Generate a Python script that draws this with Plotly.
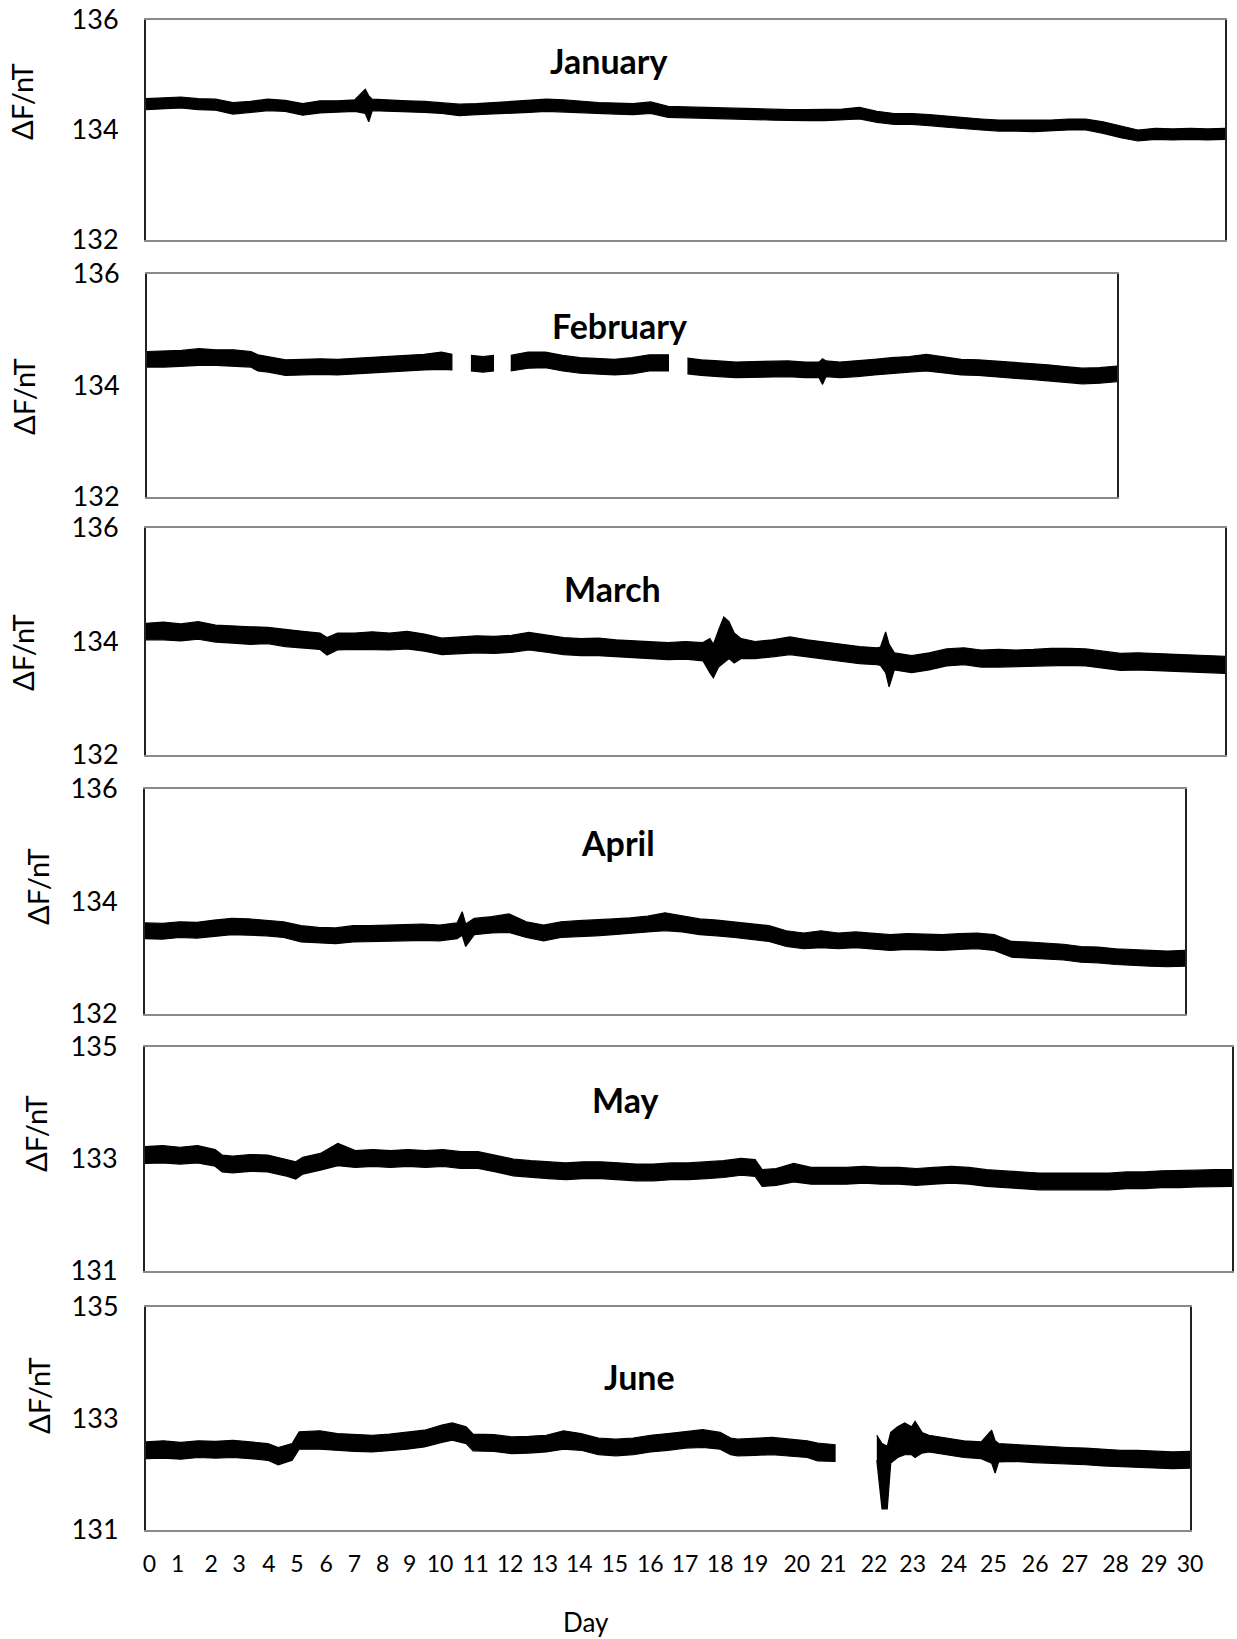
import plotly.graph_objects as go

W, H = 1237, 1639

MONTHS = ["January", "February", "March", "April", "May", "June"]
Y_LABEL = "ΔF/nT"
X_LABEL = "Day"

# ---------------- data: envelope (upper / lower) of each day-series, nT -------------
JAN_DAY = [0, 0.5, 1, 1.5, 2, 2.5, 3, 3.5, 4, 4.5, 5, 5.5, 6, 6.3, 6.4, 6.5, 7, 7.5, 8, 8.5, 9, 9.5,
           10, 10.5, 11, 11.5, 12, 12.5, 13, 13.5, 14, 14.5, 15, 15.5, 16, 16.5, 17, 17.5, 18, 18.5,
           19, 19.5, 20, 20.5, 21, 21.5, 22, 22.5, 23, 23.5, 24, 24.5, 25, 25.5, 26, 26.5, 27, 27.5,
           28, 28.5, 29, 29.5, 30, 30.5, 31]
JAN_HI = [134.57, 134.58, 134.6, 134.57, 134.56, 134.5, 134.52, 134.56, 134.54, 134.48, 134.53, 134.53,
          134.55, 134.74, 134.62, 134.56, 134.54, 134.53, 134.52, 134.5, 134.47, 134.48, 134.5, 134.51,
          134.53, 134.56, 134.55, 134.52, 134.5, 134.49, 134.48, 134.51, 134.43, 134.42, 134.41, 134.41,
          134.4, 134.39, 134.38, 134.37, 134.37, 134.37, 134.38, 134.41, 134.34, 134.3, 134.3, 134.28,
          134.25, 134.22, 134.2, 134.18, 134.18, 134.17, 134.18, 134.2, 134.2, 134.15, 134.07, 134.0,
          134.03, 134.02, 134.03, 134.02, 134.03]
JAN_LO = [134.37, 134.38, 134.4, 134.37, 134.36, 134.29, 134.32, 134.35, 134.34, 134.27, 134.31, 134.33,
          134.34, 134.3, 134.15, 134.35, 134.34, 134.33, 134.32, 134.3, 134.26, 134.28, 134.3, 134.31,
          134.32, 134.34, 134.33, 134.32, 134.3, 134.29, 134.28, 134.3, 134.23, 134.22, 134.21, 134.21,
          134.2, 134.19, 134.18, 134.17, 134.17, 134.17, 134.18, 134.2, 134.14, 134.1, 134.1, 134.08,
          134.05, 134.02, 134.0, 133.98, 133.98, 133.97, 133.98, 134.0, 134.0, 133.94, 133.86, 133.8,
          133.83, 133.82, 133.83, 133.82, 133.83]

FEB_DAY = [0, 0.5, 1, 1.5, 2, 2.5, 3, 3.2, 3.5, 4, 4.5, 5, 5.5, 6, 6.5, 7, 7.5, 8, 8.5, 8.8, None,
           9.35, 9.7, 10.0, None,
           10.5, 11, 11.5, 12, 12.5, 13, 13.5, 14, 14.5, 15.05, None,
           15.6, 16, 16.5, 17, 17.5, 18, 18.5, 19, 19.4, 19.5, 19.6, 20, 20.5, 21, 21.5, 22, 22.5, 23,
           23.5, 24, 24.5, 25, 25.5, 26, 26.5, 27, 27.5, 28]
FEB_HI = [134.61, 134.62, 134.63, 134.66, 134.64, 134.64, 134.61, 134.55, 134.52, 134.46, 134.47, 134.48,
          134.47, 134.49, 134.5, 134.52, 134.55, 134.56, 134.6, 134.56, None,
          134.54, 134.52, 134.54, None,
          134.54, 134.6, 134.6, 134.54, 134.5, 134.48, 134.47, 134.5, 134.55, 134.55, None,
          134.49, 134.46, 134.44, 134.42, 134.43, 134.43, 134.44, 134.42, 134.42, 134.48, 134.44, 134.42,
          134.44, 134.47, 134.5, 134.52, 134.56, 134.51, 134.47, 134.46, 134.44, 134.41, 134.39, 134.37,
          134.34, 134.31, 134.32, 134.35]
FEB_LO = [134.33, 134.33, 134.34, 134.36, 134.36, 134.35, 134.33, 134.26, 134.24, 134.18, 134.19, 134.2,
          134.19, 134.21, 134.22, 134.24, 134.26, 134.28, 134.29, 134.28, None,
          134.26, 134.24, 134.26, None,
          134.26, 134.31, 134.32, 134.26, 134.22, 134.2, 134.19, 134.21, 134.26, 134.26, None,
          134.21, 134.18, 134.16, 134.14, 134.15, 134.15, 134.16, 134.14, 134.14, 134.02, 134.16, 134.14,
          134.16, 134.19, 134.22, 134.24, 134.26, 134.23, 134.19, 134.18, 134.16, 134.13, 134.11, 134.09,
          134.06, 134.03, 134.04, 134.07]

MAR_DAY = [0, 0.5, 1, 1.5, 2, 2.5, 3, 3.5, 4, 4.5, 5, 5.2, 5.5, 6, 6.5, 7, 7.5, 8, 8.5, 9, 9.5, 10,
           10.5, 11, 11.5, 12, 12.5, 13, 13.5, 14, 14.5, 15, 15.5, 16, 16.2, 16.3, 16.45, 16.6, 16.75,
           16.9, 17.1, 17.5, 18, 18.5, 19, 19.5, 20, 20.5, 21, 21.1, 21.25, 21.35, 21.5, 22, 22.5, 23,
           23.5, 24, 24.5, 25, 25.5, 26, 26.5, 27, 27.5, 28, 28.5, 29, 29.5, 30, 30.5, 31]
MAR_HI = [134.32, 134.34, 134.31, 134.35, 134.29, 134.27, 134.26, 134.25, 134.21, 134.18, 134.15, 134.07,
          134.15, 134.15, 134.17, 134.15, 134.18, 134.13, 134.06, 134.08, 134.1, 134.09, 134.11, 134.16,
          134.11, 134.07, 134.05, 134.06, 134.03, 134.01, 134.0, 133.98, 134.0, 133.98, 134.05, 133.95,
          134.2, 134.43, 134.35, 134.15, 134.05, 134.0, 134.03, 134.08, 134.03, 133.99, 133.95, 133.91,
          133.89, 133.9, 134.17, 133.95, 133.8, 133.75, 133.8, 133.87, 133.89, 133.85, 133.86, 133.85,
          133.86, 133.88, 133.88, 133.87, 133.83, 133.79, 133.8, 133.79, 133.77, 133.77, 133.75, 133.74]
MAR_LO = [134.03, 134.03, 134.01, 134.04, 133.99, 133.97, 133.95, 133.96, 133.91, 133.88, 133.86, 133.76,
          133.85, 133.86, 133.86, 133.85, 133.87, 133.83, 133.77, 133.78, 133.8, 133.79, 133.81, 133.85,
          133.81, 133.77, 133.75, 133.75, 133.73, 133.71, 133.7, 133.68, 133.69, 133.66, 133.45, 133.36,
          133.55, 133.62, 133.7, 133.62, 133.7, 133.7, 133.73, 133.77, 133.73, 133.69, 133.65, 133.61,
          133.59, 133.58, 133.45, 133.2, 133.5, 133.45, 133.5, 133.57, 133.59, 133.55, 133.55, 133.55,
          133.56, 133.57, 133.58, 133.57, 133.53, 133.49, 133.5, 133.49, 133.47, 133.47, 133.45, 133.44]

APR_DAY = [0, 0.5, 1, 1.5, 2, 2.5, 3, 3.5, 4, 4.5, 5, 5.5, 6, 6.5, 7, 7.5, 8, 8.5, 9, 9.15, 9.25, 9.5,
           10, 10.5, 11, 11.5, 12, 12.5, 13, 13.5, 14, 14.5, 15, 15.5, 16, 16.5, 17, 17.5, 18, 18.5, 19,
           19.5, 20, 20.5, 21, 21.5, 22, 22.5, 23, 23.5, 24, 24.5, 25, 25.5, 26, 26.5, 27, 27.5, 28, 28.5,
           29, 29.5, 30]
APR_HI = [133.62, 133.61, 133.64, 133.63, 133.67, 133.7, 133.69, 133.67, 133.64, 133.57, 133.54, 133.53,
          133.57, 133.57, 133.58, 133.58, 133.6, 133.58, 133.62, 133.82, 133.6, 133.7, 133.73, 133.78,
          133.64, 133.58, 133.64, 133.66, 133.67, 133.69, 133.71, 133.74, 133.8, 133.74, 133.69, 133.67,
          133.64, 133.61, 133.57, 133.48, 133.44, 133.48, 133.44, 133.46, 133.43, 133.41, 133.43, 133.42,
          133.41, 133.43, 133.44, 133.41, 133.29, 133.28, 133.26, 133.24, 133.2, 133.19, 133.16, 133.14,
          133.13, 133.12, 133.13]
APR_LO = [133.34, 133.33, 133.36, 133.35, 133.38, 133.41, 133.4, 133.39, 133.36, 133.28, 133.26, 133.25,
          133.28, 133.29, 133.29, 133.3, 133.31, 133.3, 133.34, 133.4, 133.2, 133.41, 133.44, 133.45,
          133.36, 133.3, 133.36, 133.38, 133.39, 133.41, 133.43, 133.46, 133.48, 133.46, 133.41, 133.39,
          133.36, 133.33, 133.29, 133.2, 133.16, 133.18, 133.16, 133.18, 133.15, 133.13, 133.15, 133.14,
          133.13, 133.15, 133.16, 133.13, 133.01, 133.0, 132.98, 132.96, 132.92, 132.91, 132.88, 132.86,
          132.85, 132.84, 132.85]

MAY_DAY = [0, 0.5, 1, 1.5, 2, 2.2, 2.5, 3, 3.5, 4, 4.3, 4.5, 5, 5.5, 6, 6.5, 7, 7.5, 8, 8.5, 9, 9.5, 10,
           10.5, 11, 11.5, 12, 12.5, 13, 13.5, 14, 14.5, 15, 15.5, 16, 16.5, 17, 17.4, 17.6, 18, 18.5, 19,
           19.5, 20, 20.5, 21, 21.5, 22, 22.5, 23, 23.5, 24, 24.5, 25, 25.5, 26, 26.5, 27, 27.5, 28, 28.5,
           29, 29.5, 30, 30.5, 31]
MAY_HI = [133.22, 133.24, 133.21, 133.24, 133.17, 133.07, 133.05, 133.08, 133.07, 133.0, 132.95, 133.03,
          133.1, 133.28, 133.15, 133.17, 133.15, 133.17, 133.15, 133.17, 133.13, 133.13, 133.07, 133.0,
          132.97, 132.95, 132.93, 132.95, 132.95, 132.93, 132.91, 132.91, 132.93, 132.93, 132.95, 132.97,
          133.01, 132.99, 132.81, 132.83, 132.92, 132.85, 132.85, 132.85, 132.87, 132.85, 132.85, 132.83,
          132.85, 132.87, 132.85, 132.81, 132.79, 132.77, 132.75, 132.75, 132.75, 132.75, 132.75, 132.77,
          132.77, 132.79, 132.79, 132.8, 132.81, 132.81]
MAY_LO = [132.92, 132.93, 132.91, 132.93, 132.87, 132.77, 132.75, 132.78, 132.77, 132.7, 132.64, 132.73,
          132.8, 132.88, 132.85, 132.87, 132.85, 132.87, 132.85, 132.87, 132.83, 132.83, 132.77, 132.7,
          132.67, 132.65, 132.63, 132.65, 132.65, 132.63, 132.61, 132.61, 132.63, 132.63, 132.65, 132.67,
          132.71, 132.69, 132.51, 132.53, 132.59, 132.55, 132.55, 132.55, 132.57, 132.55, 132.55, 132.53,
          132.55, 132.57, 132.55, 132.51, 132.49, 132.47, 132.45, 132.45, 132.45, 132.45, 132.45, 132.47,
          132.47, 132.49, 132.49, 132.5, 132.51, 132.51]

JUN_DAY = [0, 0.5, 1, 1.5, 2, 2.5, 3, 3.5, 3.8, 4.2, 4.4, 5, 5.5, 6, 6.5, 7, 7.5, 8, 8.5, 8.8, 9.2, 9.4,
           10, 10.5, 11, 11.5, 12, 12.5, 13, 13.5, 14, 14.5, 15, 15.5, 16, 16.5, 16.8, 17, 17.5, 18, 18.5,
           19, 19.3, 19.8, None,
           21.0, 21.15, 21.3, 21.4, 21.6, 21.8, 22.0, 22.1, 22.3, 22.5, 23, 23.5, 24, 24.3, 24.4, 24.5,
           25, 25.5, 26, 26.5, 27, 27.5, 28, 28.5, 29, 29.5, 30]
JUN_HI = [132.58, 132.6, 132.57, 132.6, 132.59, 132.61, 132.58, 132.55, 132.48, 132.55, 132.76, 132.78,
          132.73, 132.72, 132.7, 132.72, 132.75, 132.79, 132.88, 132.92, 132.85, 132.72, 132.71, 132.67,
          132.68, 132.7, 132.78, 132.73, 132.65, 132.63, 132.65, 132.7, 132.73, 132.77, 132.8, 132.75,
          132.65, 132.63, 132.64, 132.66, 132.63, 132.6, 132.56, 132.53, None,
          132.7, 132.55, 132.5, 132.75, 132.85, 132.92, 132.85, 132.95, 132.75, 132.7, 132.65, 132.6,
          132.58, 132.79, 132.6, 132.55, 132.53, 132.51, 132.5, 132.48, 132.47, 132.45, 132.43, 132.43,
          132.41, 132.4, 132.41]
JUN_LO = [132.28, 132.29, 132.27, 132.3, 132.29, 132.3, 132.28, 132.25, 132.17, 132.25, 132.45, 132.45,
          132.43, 132.41, 132.4, 132.42, 132.45, 132.49, 132.57, 132.61, 132.55, 132.42, 132.41, 132.37,
          132.38, 132.4, 132.45, 132.43, 132.35, 132.33, 132.35, 132.4, 132.43, 132.47, 132.48, 132.45,
          132.35, 132.33, 132.34, 132.35, 132.33, 132.3, 132.24, 132.23, None,
          132.25, 131.38, 131.38, 132.2, 132.3, 132.35, 132.35, 132.3, 132.38, 132.4, 132.35, 132.3,
          132.28, 132.2, 132.02, 132.22, 132.23, 132.21, 132.2, 132.18, 132.17, 132.15, 132.13, 132.13,
          132.11, 132.1, 132.11]

X_MAX = [31, 28, 31, 30, 31, 30]
Y_RANGES = [[132, 136], [132, 136], [132, 136], [132, 136], [131, 135], [131, 135]]
Y_TICKS = [[132, 134, 136]] * 4 + [[131, 133, 135]] * 2

# Day labels printed under the June panel (positions, in days, as they appear in the figure)
DAY_TICK_LABELS = [str(i) for i in range(31)]
DAY_TICK_POS = [0.10, 0.91, 1.87, 2.68, 3.53, 4.34, 5.18, 5.99, 6.80, 7.58, 8.45, 9.47, 10.46, 11.46,
                12.45, 13.47, 14.49, 15.49, 16.50, 17.50, 18.70, 19.75, 20.92, 22.03, 23.21, 24.35,
                25.55, 26.69, 27.86, 28.97, 30.0]

SERIES = [(JAN_DAY, JAN_HI, JAN_LO), (FEB_DAY, FEB_HI, FEB_LO), (MAR_DAY, MAR_HI, MAR_LO),
          (APR_DAY, APR_HI, APR_LO), (MAY_DAY, MAY_HI, MAY_LO), (JUN_DAY, JUN_HI, JUN_LO)]

# ---------------- layout (pixel boxes of each panel: left, top, right, bottom) -------------
BOXES = [(146, 20, 1225, 240), (147, 274, 1117, 497), (146, 528, 1225, 755),
         (145, 789, 1185, 1014), (145, 1047, 1232, 1271), (146, 1307, 1190, 1530)]
TITLE_POS = [(609, 61), (619, 325), (612, 588), (618, 843), (625, 1099), (639, 1376)]
YLAB_POS = [(22, 102), (24, 397), (23, 653), (37, 887), (35, 1134), (38, 1396)]
FONT = "Lato, 'Open Sans', sans-serif"


def band(day, hi, lo):
    assert len(day) == len(hi) == len(lo), (len(day), len(hi), len(lo))
    segs, cur = [], []
    for d, h, l in zip(day, hi, lo):
        if d is None:
            if cur:
                segs.append(cur)
            cur = []
        else:
            cur.append((d, h, l))
    if cur:
        segs.append(cur)
    xs, ys = [], []
    for s in segs:
        xs += [p[0] for p in s] + [p[0] for p in reversed(s)] + [None]
        ys += [p[1] for p in s] + [p[2] for p in reversed(s)] + [None]
    return xs, ys


fig = go.Figure()
annotations = []
for i, (name, (day, hi, lo)) in enumerate(zip(MONTHS, SERIES)):
    suf = "" if i == 0 else str(i + 1)
    xs, ys = band(day, hi, lo)
    fig.add_trace(go.Scatter(x=xs, y=ys, mode="lines", fill="toself", fillcolor="black",
                             line=dict(color="black", width=1.2), hoverinfo="skip",
                             showlegend=False, xaxis="x" + suf, yaxis="y" + suf))
    l, t, r, b = BOXES[i]
    xa = dict(domain=[l / W, r / W], range=[0, X_MAX[i]], anchor="y" + suf, automargin=False,
              showline=True, mirror=True, linecolor="#8a8a8a", linewidth=1.5,
              showgrid=False, zeroline=False, showticklabels=False, ticks="")
    if i == 5:
        xa.update(showticklabels=True, tickmode="array", tickvals=DAY_TICK_POS,
                  ticktext=DAY_TICK_LABELS, tickangle=0, ticks="outside", ticklen=13,
                  tickcolor="rgba(0,0,0,0)", tickfont=dict(family=FONT, size=23, color="black"))
    ya = dict(domain=[1 - b / H, 1 - t / H], range=Y_RANGES[i], anchor="x" + suf, automargin=False,
              showline=True, mirror=True, linecolor="#222222", linewidth=2,
              showgrid=False, zeroline=False, tickmode="array", tickvals=Y_TICKS[i],
              ticks="outside", ticklen=20, tickcolor="rgba(0,0,0,0)",
              tickfont=dict(family=FONT, size=27, color="black"))
    fig.update_layout({"xaxis" + suf: xa, "yaxis" + suf: ya})

    tx, ty = TITLE_POS[i]
    annotations.append(dict(text="<b>%s</b>" % name, x=tx / W, y=1 - ty / H, xref="paper", yref="paper",
                            xanchor="center", yanchor="middle", showarrow=False,
                            font=dict(family=FONT, size=34, color="black")))
    lx, ly = YLAB_POS[i]
    annotations.append(dict(text=Y_LABEL, x=lx / W, y=1 - ly / H, xref="paper", yref="paper",
                            xanchor="center", yanchor="middle", showarrow=False, textangle=-90,
                            font=dict(family=FONT, size=29, color="black")))

annotations.append(dict(text=X_LABEL, x=586 / W, y=1 - 1622 / H, xref="paper", yref="paper",
                        xanchor="center", yanchor="middle", showarrow=False,
                        font=dict(family=FONT, size=26, color="black")))

fig.update_layout(width=W, height=H, autosize=False,
                  margin=dict(l=0, r=0, t=0, b=0, pad=0, autoexpand=False),
                  paper_bgcolor="white", plot_bgcolor="white", annotations=annotations,
                  showlegend=False)

fig.write_html("out.html")
